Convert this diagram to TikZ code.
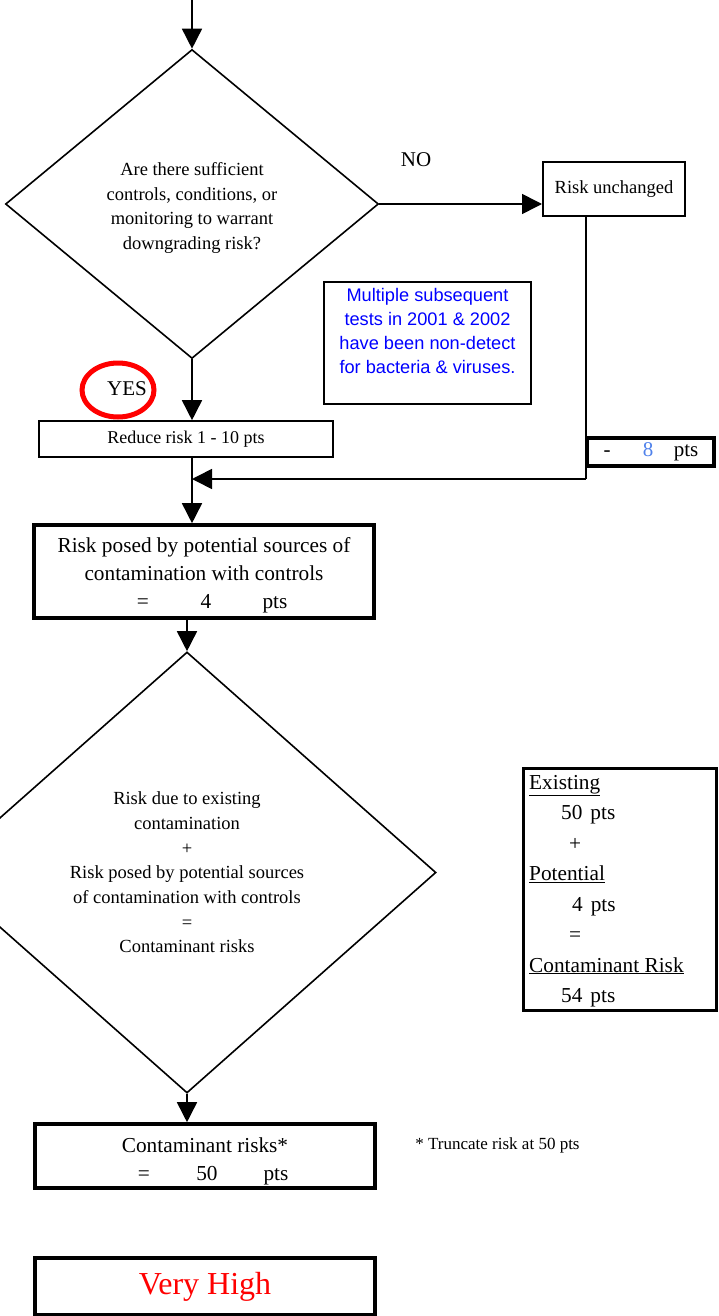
\documentclass[tikz,border=0pt]{standalone}
\usepackage{fontspec}
\setmainfont{Liberation Serif}
\newfontfamily\notefont{Liberation Sans}
\usetikzlibrary{shapes.geometric,arrows.meta}
\definecolor{noteblue}{RGB}{0,0,255}
\definecolor{ptblue}{RGB}{80,130,235}
\definecolor{alertred}{RGB}{255,0,0}

% "=   value   pts" line with fixed column spacing
\newcommand{\eqline}[1]{\hspace*{10pt}\makebox[0pt]{=}\hspace{63pt}\makebox[0pt]{#1}\hspace{69pt}\makebox[0pt]{pts}}

\begin{document}
\begin{tikzpicture}[x=1pt,y=-1pt,
  conn/.style={line width=1.6pt},
  flow/.style={line width=1.6pt,-{Triangle[length=20pt,width=20pt]}},
  plainbox/.style={draw,line width=1.6pt,inner sep=0pt},
  heavybox/.style={draw,line width=3.6pt,inner sep=0pt},
  decision/.style={draw,diamond,line width=1.6pt,inner sep=0pt,align=center},
]
\useasboundingbox (0,0) rectangle (719,1316);
\clip (0,0) rectangle (719,1316);

% first decision
\node[decision, minimum width=373pt, minimum height=309pt] (q1) at (192,204) {};
\node[align=center, font=\fontsize{18.5}{24.5}\selectfont] (q1text) at (192,208)
  {Are there sufficient\\controls, conditions, or\\monitoring to warrant\\downgrading risk?};

\node[font=\fontsize{21}{24}\selectfont] (nolabel) at (416,160) {NO};
\node[plainbox, line width=2pt, minimum width=142pt, minimum height=54pt,
      font=\fontsize{18.5}{21}\selectfont] (unch) at (614,189) {Risk unchanged};

% note box
\node[plainbox, line width=2pt, minimum width=207pt, minimum height=122pt] (note) at (427.5,343) {};
\node[text=noteblue, align=center, font=\notefont\fontsize{18.2}{24}\selectfont]
  (notetext) at ([yshift=12pt]note.center)
  {Multiple subsequent\\tests in 2001 \& 2002\\have been non-detect\\for bacteria \& viruses.};

% YES branch
\node[font=\fontsize{21}{24}\selectfont] (yes) at (127,389) {YES};
\node[draw=alertred, line width=5pt, ellipse, minimum width=72pt, minimum height=54pt] (yesring) at (118,390) {};
\node[plainbox, minimum width=294pt, minimum height=36pt,
      font=\fontsize{18}{21}\selectfont] (reduce) at (186,439) {Reduce risk 1 - 10 pts};

\node[heavybox, minimum width=127pt, minimum height=28pt,
      font=\fontsize{21}{24}\selectfont] (minus) at (650.5,452)
  {\makebox[0pt]{-}\hspace{41pt}\makebox[0pt]{\textcolor{ptblue}{8}}\hspace{38pt}\makebox[0pt]{pts}\hspace*{8pt}};

\node[heavybox, minimum width=340pt, minimum height=93pt] (posed) at (204,571.5) {};
\node[align=center, font=\fontsize{21.3}{28}\selectfont] (posedtext) at (204,575)
  {Risk posed by potential sources of\\contamination with controls\\\eqline{4}};

% second decision
\node[decision, minimum width=498pt, minimum height=441pt,
      font=\fontsize{18.5}{24.7}\selectfont] (q2) at (187,872.5)
  {Risk due to existing\\contamination\\+\\Risk posed by potential sources\\of contamination with controls\\=\\Contaminant risks};

% tally box
\node[heavybox, line width=3pt, minimum width=193pt, minimum height=242pt] (tally) at (619.5,889) {};
\node[anchor=west, inner sep=0pt, align=left, font=\fontsize{21.3}{30.5}\selectfont] (tallytext) at (529,891)
  {\underline{Existing}\\
   \hspace*{32pt}50\hspace{8pt}pts\\
   \hspace*{40pt}+\\
   \underline{Potential}\\
   \hspace*{43pt}4\hspace{8pt}pts\\
   \hspace*{40pt}=\\
   \underline{Contaminant Risk}\\
   \hspace*{32pt}54\hspace{8pt}pts};

\node[heavybox, minimum width=340pt, minimum height=64pt] (cont) at (205,1156) {};
\node[align=center, font=\fontsize{21.3}{28}\selectfont] (conttext) at (205,1161)
  {Contaminant risks*\\\eqline{50}};
\node[font=\fontsize{17}{19}\selectfont] (trunc) at (497.5,1145) {* Truncate risk at 50 pts};

\node[heavybox, minimum width=340pt, minimum height=57pt, text=alertred,
      font=\fontsize{32}{36}\selectfont] (level) at (205,1286.5) {Very High};

% connectors
\coordinate (entry) at (192,0);
\coordinate (drop) at (586,479);
\draw[flow] (entry) -- (q1.north);
\draw[flow] (q1.east) -- (q1.east -| unch.west);
\draw[flow] (q1.south) -- (q1.south |- reduce.north);
\draw[conn] (unch.south -| drop) -- (drop);
\draw[flow] (drop) -- (q1.south |- drop);
\draw[flow] (q1.south |- reduce.south) -- (q1.south |- posed.north);
\draw[flow] (q2.north |- posed.south) -- (q2.north);
\draw[flow] (q2.south) -- (q2.south |- cont.north);
\end{tikzpicture}
\end{document}
